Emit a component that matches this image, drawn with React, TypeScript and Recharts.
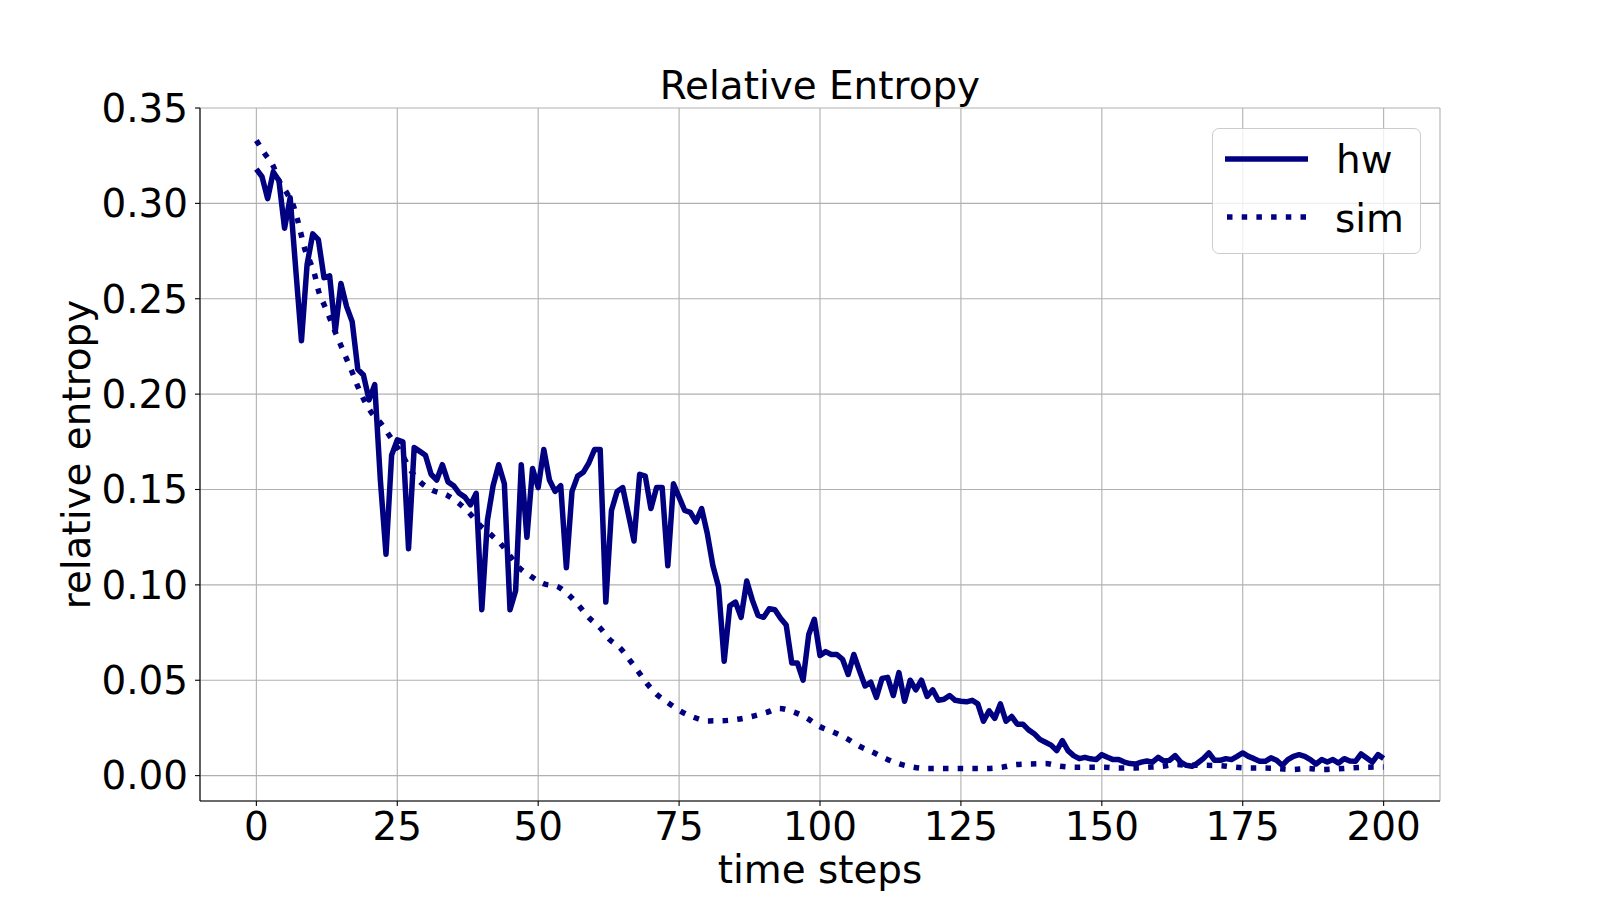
import React from "react";
import { LineChart, Line, XAxis, YAxis, CartesianGrid, Legend } from "recharts";

// hw: one value per time step, 0..200
const hwValues = [
  0.318, 0.314, 0.3025, 0.3165, 0.312, 0.287, 0.303, 0.265, 0.228, 0.268,
  0.284, 0.281, 0.261, 0.262, 0.233, 0.258, 0.246, 0.238, 0.213, 0.21,
  0.197, 0.205, 0.155, 0.116, 0.168, 0.176, 0.175, 0.119, 0.172, 0.17,
  0.168, 0.158, 0.155, 0.163, 0.154, 0.152, 0.148, 0.146, 0.142, 0.148,
  0.087, 0.134, 0.152, 0.163, 0.153, 0.087, 0.097, 0.163, 0.125, 0.161,
  0.151, 0.171, 0.155, 0.149, 0.152, 0.109, 0.149, 0.157, 0.159, 0.164,
  0.171, 0.171, 0.091, 0.139, 0.149, 0.151, 0.137, 0.123, 0.158, 0.157,
  0.14, 0.151, 0.151, 0.11, 0.153, 0.146, 0.139, 0.138, 0.133, 0.14,
  0.127, 0.11, 0.099, 0.06, 0.089, 0.091, 0.083, 0.102, 0.092, 0.084,
  0.083, 0.0875, 0.087, 0.0825, 0.079, 0.059, 0.059, 0.05, 0.074, 0.082,
  0.063, 0.065, 0.0635, 0.0635, 0.061, 0.053, 0.0635, 0.055, 0.047, 0.049,
  0.041, 0.051, 0.0515, 0.042, 0.054, 0.039, 0.05, 0.045, 0.05, 0.0415,
  0.045, 0.0395, 0.04, 0.042, 0.0395, 0.039, 0.0387, 0.0395, 0.0376, 0.0285,
  0.034, 0.03, 0.0376, 0.0285, 0.031, 0.027, 0.027, 0.024, 0.022, 0.019,
  0.0175, 0.016, 0.0131, 0.0184, 0.0131, 0.0105, 0.0089, 0.0096, 0.0088, 0.0084,
  0.011, 0.0096, 0.0084, 0.0084, 0.0071, 0.0063, 0.0061, 0.0071, 0.0077, 0.0071,
  0.0096, 0.0077, 0.008, 0.0105, 0.0071, 0.0054, 0.0049, 0.0066, 0.0089, 0.0119,
  0.008, 0.008, 0.0089, 0.0084, 0.0101, 0.0119, 0.0101, 0.0089, 0.0075, 0.0075,
  0.0093, 0.0081, 0.0054, 0.0084, 0.0101, 0.011, 0.0101, 0.0084, 0.0061, 0.0084,
  0.0071, 0.0084, 0.0066, 0.0089, 0.0077, 0.0075, 0.0114, 0.0093, 0.0071, 0.011,
  0.009,
];

const simSteps = [
  0, 1.5, 3, 4, 5.4, 6.6, 7.3, 8, 8.6, 9.5, 10.4, 11, 12, 13, 14, 15, 16, 17, 18, 19,
  20.4, 22, 23.5, 26.2, 27.4, 29, 31, 34, 36, 38, 39.6, 41.5, 43.5, 45, 46.5, 48.7,
  51, 53.5, 55.5, 57.3, 59, 61, 62.6, 64.6, 66.2, 67.8, 69.3, 71, 73, 75.2, 77.6,
  80.1, 82.6, 85.3, 87.9, 90.4, 92.8, 95.3, 97.6, 99.8, 102.3, 104.6, 107, 109.3,
  111.7, 114.1, 116.6, 119, 122, 124.5, 127, 129.7, 132.3, 134.8, 137.3, 140, 142.6,
  145, 147.7, 150.3, 152.8, 155.5, 158, 160.7, 163.1, 165.8, 168.4, 171.1, 173.6,
  176.1, 178.8, 181.3, 183.8, 186.5, 189.1, 191.6, 194.1, 196.8, 200,
];
const simValues = [
  0.333, 0.326, 0.3195, 0.312, 0.3055, 0.2985, 0.2915, 0.283, 0.276, 0.2696, 0.262,
  0.2544, 0.247, 0.24, 0.2325, 0.2255, 0.2185, 0.2115, 0.204, 0.1975,
  0.1904, 0.185, 0.1787, 0.1665, 0.16, 0.1542, 0.15, 0.1467, 0.1426, 0.137, 0.1315,
  0.1266, 0.121, 0.1152, 0.1094, 0.1045,
  0.1006, 0.099, 0.0945, 0.0888, 0.0828, 0.0774, 0.0716, 0.0667, 0.0607, 0.0544,
  0.0483, 0.0427, 0.0383, 0.0339, 0.0306,
  0.0287, 0.0288, 0.0295, 0.031, 0.033, 0.0352, 0.0334, 0.0303, 0.026, 0.0229,
  0.0197, 0.0154, 0.0124,
  0.0089, 0.0061, 0.0044, 0.0037, 0.0037, 0.0037, 0.0037, 0.0038, 0.0044, 0.0058,
  0.0061, 0.0063, 0.0049,
  0.0044, 0.0044, 0.0044, 0.004, 0.004, 0.0044, 0.0049, 0.0058, 0.0054, 0.0054,
  0.0052, 0.0044,
  0.004, 0.004, 0.0037, 0.0032, 0.0037, 0.0032, 0.0035, 0.004, 0.0044, 0.0045,
];

const xTicks = [0, 25, 50, 75, 100, 125, 150, 175, 200];
const yTicks = [0, 0.05, 0.1, 0.15, 0.2, 0.25, 0.3, 0.35];

const hwData = hwValues.map((v, i) => ({ t: i, v }));
const simData = simSteps.map((t, i) => ({ t, v: simValues[i] }));

const NAVY = "#000080";
const FONT = "DejaVu Sans";
const FS = 38.9;
const LW = 5.5;
const DOTS = "5.5 9.2";

const tickStyle = { fill: "#000", fontSize: FS, fontFamily: FONT };

function LegendBox() {
  return (
    <div
      style={{
        width: 209,
        height: 126,
        boxSizing: "border-box",
        border: "1.4px solid #cccccc",
        borderRadius: 7,
        background: "rgba(255,255,255,0.8)",
      }}
    >
      <svg width={207} height={124} style={{ display: "block" }}>
        <line x1={12} x2={95} y1={30} y2={30} stroke={NAVY} strokeWidth={LW} />
        <text x={123} y={44} fontSize={FS} fontFamily={FONT} fill="#000">hw</text>
        <line x1={14} x2={95} y1={88} y2={88} stroke={NAVY} strokeWidth={LW} strokeDasharray={DOTS} />
        <text x={122} y={103} fontSize={FS} fontFamily={FONT} fill="#000">sim</text>
      </svg>
    </div>
  );
}

export default function App() {
  return (
    <div style={{ position: "absolute", left: 0, top: 0, width: 1600, height: 900, background: "#fff" }}>
      <LineChart width={1600} height={900} margin={{ top: 108, right: 160, bottom: 39, left: 100 }}>
        <CartesianGrid stroke="#b0b0b0" strokeWidth={1.1} />
        <XAxis
          dataKey="t"
          type="number"
          domain={[-10, 210]}
          ticks={xTicks}
          allowDataOverflow
          height={60}
          tick={tickStyle}
          tickSize={5}
          tickMargin={6}
          tickLine={{ stroke: "#000", strokeWidth: 1.1 }}
          axisLine={{ stroke: "#000", strokeWidth: 1.1 }}
        />
        <XAxis
          xAxisId="top"
          orientation="top"
          type="number"
          domain={[-10, 210]}
          height={0}
          tick={false}
          tickLine={false}
          axisLine={{ stroke: "#000", strokeWidth: 1.1 }}
        />
        <YAxis
          type="number"
          domain={[-0.0133, 0.35]}
          ticks={yTicks}
          allowDataOverflow
          width={100}
          tick={tickStyle}
          tickSize={5}
          tickMargin={7}
          tickFormatter={(v) => v.toFixed(2)}
          tickLine={{ stroke: "#000", strokeWidth: 1.1 }}
          axisLine={{ stroke: "#000", strokeWidth: 1.1 }}
        />
        <YAxis
          yAxisId="right"
          orientation="right"
          type="number"
          domain={[-0.0133, 0.35]}
          width={0}
          tick={false}
          tickLine={false}
          axisLine={{ stroke: "#000", strokeWidth: 1.1 }}
        />
        <Line
          data={hwData}
          dataKey="v"
          name="hw"
          type="linear"
          stroke={NAVY}
          strokeWidth={LW}
          strokeLinejoin="round"
          dot={false}
          isAnimationActive={false}
        />
        <Line
          data={simData}
          dataKey="v"
          name="sim"
          type="monotone"
          stroke={NAVY}
          strokeWidth={LW}
          strokeDasharray={DOTS}
          dot={false}
          isAnimationActive={false}
        />
        <Legend
          layout="vertical"
          align="center"
          verticalAlign="middle"
          content={() => <LegendBox />}
          wrapperStyle={{ position: "absolute", left: 1212, top: 128, width: 209, height: 126 }}
        />
      </LineChart>
      <svg
        width={1600}
        height={900}
        style={{ position: "absolute", left: 0, top: 0, pointerEvents: "none" }}
        fontFamily={FONT}
        fontSize={FS}
      >
        <text x={820} y={99} textAnchor="middle" fill="#000">Relative Entropy</text>
        <text x={820} y={883} textAnchor="middle" fill="#000">time steps</text>
        <text transform="translate(90,454.5) rotate(-90)" textAnchor="middle" fill="#000">
          relative entropy
        </text>
      </svg>
    </div>
  );
}
